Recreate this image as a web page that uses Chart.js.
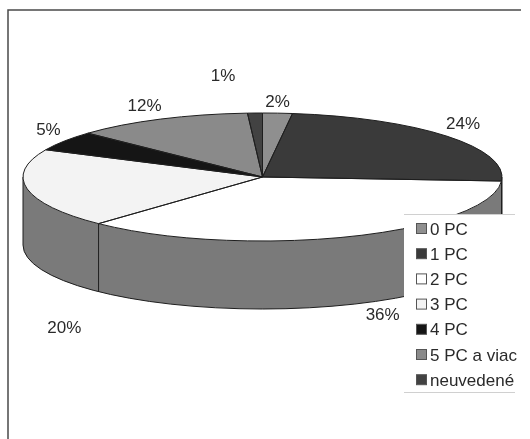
<!DOCTYPE html>
<html>
<head>
<meta charset="utf-8">
<title>Počet PC v domácnosti</title>
<script src="https://cdn.jsdelivr.net/npm/chart.js@4/dist/chart.umd.min.js"></script>
<style>
  html, body { margin: 0; padding: 0; background: #fff; }
  canvas { display: block; }
</style>
</head>
<body>
<canvas id="c" width="530" height="439"></canvas>
<script>
// Categories and their shares (percent)
const categories = ['0 PC', '1 PC', '2 PC', '3 PC', '4 PC', '5 PC a viac', 'neuvedené'];
const shares = [2, 24, 36, 20, 5, 12, 1];
const pctLabels = shares.map(v => v + '%');

// Styling
const sliceColors = ['#8f8f8f', '#3a3a3a', '#ffffff', '#f3f3f3', '#151515', '#8a8a8a', '#424242'];
const sideColor = '#7a7a7a';
const outlineColor = '#1e1e1e';
const textColor = '#2a2a2a';
const FONT = '17px "Liberation Sans", Arial, sans-serif';

// Projection of the pie onto a tilted disc
const VIEW = { cx: 262.5, cy: 177, rx: 239.5, ry: 64, depth: 68 };

// Per-label nudges from the rim point of each slice's mid angle
const labelNudge = [[0, -11], [16, -12], [32, 11], [37, 71], [-16, -11], [-16, -13], [-32, -37]];

function ellipsePt(a, dy) {
  return [VIEW.cx + VIEW.rx * Math.cos(a), VIEW.cy + VIEW.ry * Math.sin(a) + (dy || 0)];
}

const pie3d = {
  id: 'pie3d',
  beforeDraw(chart) {
    const ctx = chart.ctx;
    ctx.save();
    ctx.fillStyle = '#ffffff';
    ctx.fillRect(0, 0, chart.width, chart.height);
    // frame
    ctx.strokeStyle = '#4a4a4a';
    ctx.lineWidth = 1.5;
    ctx.beginPath();
    ctx.moveTo(8, 439);
    ctx.lineTo(8, 10);
    ctx.lineTo(521, 10);
    ctx.stroke();
    ctx.restore();
  },
  beforeDatasetsDraw(chart) {
    const ctx = chart.ctx;
    const arcs = chart.getDatasetMeta(0).data;
    const { cx, cy, rx, ry, depth } = VIEW;
    ctx.save();
    // visible walls (front half of the disc)
    arcs.forEach(arc => {
      const a = Math.max(arc.startAngle, 0);
      const b = Math.min(arc.endAngle, Math.PI);
      if (b <= a) return;
      ctx.beginPath();
      ctx.ellipse(cx, cy, rx, ry, 0, a, b);
      ctx.ellipse(cx, cy + depth, rx, ry, 0, b, a, true);
      ctx.closePath();
      ctx.fillStyle = sideColor;
      ctx.fill();
    });
    // seams where slices meet on the wall
    ctx.strokeStyle = outlineColor;
    ctx.lineWidth = 1;
    arcs.forEach(arc => {
      const t = arc.endAngle;
      if (t > 0.02 && t < Math.PI - 0.02) {
        const p = ellipsePt(t);
        ctx.beginPath();
        ctx.moveTo(p[0], p[1]);
        ctx.lineTo(p[0], p[1] + depth);
        ctx.stroke();
      }
    });
    // wall outline
    ctx.beginPath();
    ctx.moveTo(cx + rx, cy);
    ctx.lineTo(cx + rx, cy + depth);
    ctx.ellipse(cx, cy + depth, rx, ry, 0, 0, Math.PI);
    ctx.lineTo(cx - rx, cy);
    ctx.stroke();
    // squash the library's circular slices onto the disc
    const R = arcs[0].outerRadius;
    ctx.translate(cx, cy);
    ctx.scale(rx / R, ry / R);
    ctx.translate(-arcs[0].x, -arcs[0].y);
  },
  afterDatasetsDraw(chart) {
    const ctx = chart.ctx;
    ctx.restore();
    const arcs = chart.getDatasetMeta(0).data;
    const { cx, cy, rx, ry } = VIEW;
    ctx.save();
    ctx.strokeStyle = outlineColor;
    ctx.lineWidth = 1;
    arcs.forEach(arc => {
      ctx.beginPath();
      ctx.moveTo(cx, cy);
      ctx.ellipse(cx, cy, rx, ry, 0, arc.startAngle, arc.endAngle);
      ctx.closePath();
      ctx.stroke();
    });
    ctx.restore();
  },
  afterDraw(chart) {
    const ctx = chart.ctx;
    const arcs = chart.getDatasetMeta(0).data;
    ctx.save();
    ctx.font = FONT;
    ctx.fillStyle = textColor;
    ctx.textAlign = 'center';
    ctx.textBaseline = 'middle';
    arcs.forEach((arc, i) => {
      const mid = (arc.startAngle + arc.endAngle) / 2;
      const drop = Math.sin(mid) > 0 ? VIEW.depth : 0;
      const p = ellipsePt(mid, drop);
      ctx.fillText(pctLabels[i], p[0] + labelNudge[i][0], p[1] + labelNudge[i][1]);
    });

    // legend
    const lx = 404, ly = 214, lw = 111, lh = 179;
    ctx.fillStyle = '#ffffff';
    ctx.fillRect(lx, ly, lw, lh);
    ctx.strokeStyle = '#d0d0d0';
    ctx.lineWidth = 1;
    ctx.beginPath();
    ctx.moveTo(lx, ly + 0.5); ctx.lineTo(lx + lw, ly + 0.5);
    ctx.moveTo(lx, ly + lh - 0.5); ctx.lineTo(lx + lw, ly + lh - 0.5);
    ctx.stroke();
    ctx.textAlign = 'left';
    categories.forEach((name, i) => {
      const y = 229 + i * 25.2;
      ctx.fillStyle = sliceColors[i];
      ctx.fillRect(416.5, y - 5.5, 10, 10);
      ctx.strokeStyle = '#555';
      ctx.strokeRect(416.5, y - 5.5, 10, 10);
      ctx.fillStyle = textColor;
      ctx.fillText(name, 430, y + 1);
    });
    ctx.restore();
  }
};

new Chart(document.getElementById('c'), {
  type: 'pie',
  data: {
    labels: categories,
    datasets: [{
      data: shares,
      backgroundColor: sliceColors,
      borderWidth: 0
    }]
  },
  options: {
    responsive: false,
    animation: false,
    events: [],
    plugins: {
      legend: { display: false },
      tooltip: { enabled: false }
    }
  },
  plugins: [pie3d]
});
</script>
</body>
</html>
